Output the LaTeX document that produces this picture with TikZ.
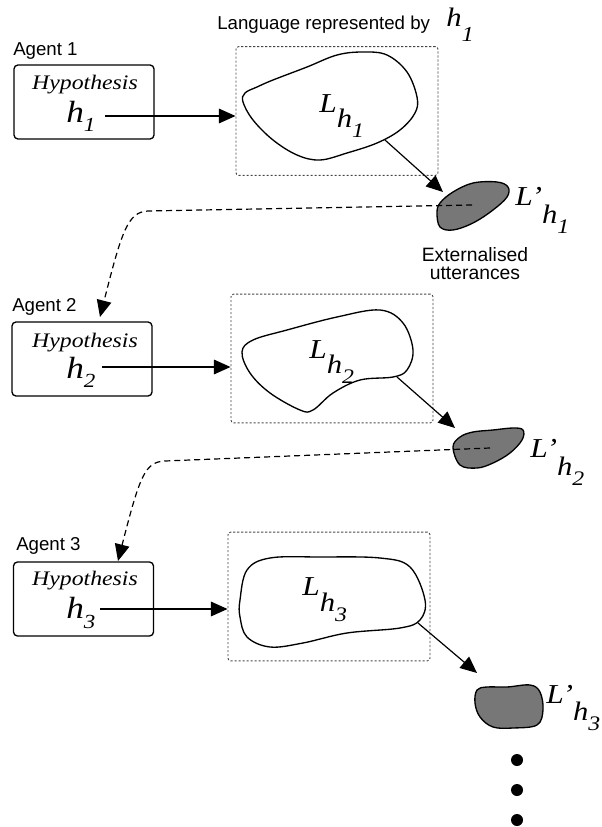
\documentclass[tikz,border=0pt]{standalone}
\usepackage{fontspec}
\setmainfont{Liberation Serif}[FakeStretch=1.15]
\setsansfont{Liberation Sans}
\usetikzlibrary{arrows.meta}

\definecolor{utter}{RGB}{119,119,119}
\definecolor{frame}{RGB}{70,70,70}

\newcommand{\fs}[1]{\fontsize{#1}{#1}\selectfont}
% italic h with a lowered index: size of h, size of index, drop, index
\newcommand{\hidx}[4]{{\fs{#1}\itshape h}\raisebox{-#3}{\fs{#2}\itshape #4}}
% language symbol L (or L') with index h_i, lowered by #3
\newcommand{\Lang}[3]{{\fs{20.5pt}\itshape L#1}\raisebox{-#3}{\hidx{20pt}{15.5pt}{7.5pt}{#2}}}

\begin{document}
\begin{tikzpicture}[x=0.75pt,y=-0.75pt,
  agent/.style={draw, line width=1pt, rounded corners=3pt,
    minimum width=105pt, minimum height=55.5pt, inner sep=0},
  langbox/.style={draw=frame, line width=0.7pt, dash pattern=on 1.6pt off 1.4pt,
    rounded corners=2pt, minimum width=151.5pt, minimum height=96.5pt, inner sep=0},
  blob/.style={draw, line width=1pt, fill=white},
  utt/.style={draw, line width=1pt, fill=utter},
  flow/.style={-{Triangle[length=12.5pt,width=11pt]}, line width=0.9pt},
  pass/.style={flow, dash pattern=on 4.5pt off 3pt},
  tag/.style={font=\sffamily\fs{14pt}, inner sep=0, anchor=base west},
  txt/.style={inner sep=0, anchor=base west},
  hyp/.style={inner sep=0, anchor=base, font=\fs{15.5pt}\itshape}]

\useasboundingbox (0,0) rectangle (601,827);

% ---- agents ----
\node[tag] (ag1) at (13,56) {Agent 1};
\node[tag] (ag2) at (12,311) {Agent 2};
\node[tag] (ag3) at (16,550) {Agent 3};

\node[agent] (box1) at (84,102) {};
\node[agent] (box2) at (82,359) {};
\node[agent] (box3) at (83.5,599) {};

\node[hyp] (hy1) at (85,90) {Hypothesis};
\node[hyp] (hy2) at (85,347) {Hypothesis};
\node[hyp] (hy3) at (85,585) {Hypothesis};

\node[txt] (h1) at (66,123) {\hidx{23pt}{15pt}{6.75pt}{1}};
\node[txt] (h2) at (66,378) {\hidx{23pt}{15pt}{6.75pt}{2}};
\node[txt] (h3) at (66,618) {\hidx{23pt}{15pt}{8pt}{3}};

% ---- language frames ----
\node[tag] (title) at (217,30) {Language represented by};
\node[txt] (th) at (446,27) {\hidx{20pt}{16pt}{11.25pt}{1}};

\node[langbox] (lang1) at (337,111) {};
\node[langbox] (lang2) at (332,358.5) {};
\node[langbox] (lang3) at (329,596.5) {};

% ---- languages ----
\draw[blob] plot[smooth cycle, tension=0.6] coordinates {
  (245,93) (257,87) (273,80) (307,67) (337,55) (363,52) (387,55) (407,72)
  (417,97) (415,113) (400,130) (377,143) (347,153) (320,160) (297,155)
  (273,140) (253,120) (243,102)};
\draw[blob] plot[smooth cycle, tension=0.6] coordinates {
  (242,352) (253,340) (287,330) (337,317) (380,310) (403,323) (413,350)
  (407,370) (393,377) (360,380) (333,393) (313,410) (300,410) (270,393)
  (250,373)};
\draw[blob] plot[smooth cycle, tension=0.6] coordinates {
  (240,600) (247,570) (270,558) (320,557) (380,558) (410,567) (425,600)
  (420,620) (400,628) (347,633) (303,643) (270,647) (247,637) (240,617)};

\node[txt] (L1) at (319,113) {\Lang{}{1}{11.25pt}};
\node[txt] (L2) at (309,358) {\Lang{}{2}{11.25pt}};
\node[txt] (L3) at (302,595) {\Lang{}{3}{12.5pt}};

% ---- externalised utterances ----
\draw[utt] plot[smooth cycle, tension=0.6] coordinates {
  (437,213) (440,203) (453,192) (473,183) (497,182) (508,187) (507,197)
  (493,210) (473,223) (453,230) (440,227)};
\draw[utt] plot[smooth cycle, tension=0.6] coordinates {
  (453,447) (460,437) (473,432) (493,430) (513,428) (523,430) (522,440)
  (510,453) (493,463) (477,468) (460,465)};
\draw[utt] plot[smooth cycle, tension=0.6] coordinates {
  (477,690) (487,687) (507,687) (530,685) (540,692) (543,710) (537,725)
  (513,728) (493,727) (480,717) (475,703)};

\node[txt] (Lp1) at (515,205) {\Lang{’}{1}{13.5pt}};
\node[txt] (Lp2) at (530,457) {\Lang{’}{2}{13.5pt}};
\node[txt] (Lp3) at (546,703) {\Lang{’}{3}{13pt}};

\node[font=\sffamily\fontsize{14.5pt}{13.5pt}\selectfont, align=center, inner sep=0]
  (ext) at (475,264) {Externalised\\utterances};

% ---- hypothesis -> language ----
\coordinate (s1) at (105,116);
\coordinate (s2) at (102,367);
\coordinate (s3) at (100,609);
\draw[flow] (s1) -- (s1 -| lang1.west);
\draw[flow] (s2) -- (s2 -| lang2.west);
\draw[flow] (s3) -- (s3 -| lang3.west);

% ---- language -> utterances ----
\coordinate (b1) at (385,140); \coordinate (t1) at (443,192);
\coordinate (b2) at (397,377); \coordinate (t2) at (455,428);
\coordinate (b3) at (418,623); \coordinate (t3) at (477,673);
\draw[flow] (b1) -- (t1);
\draw[flow] (b2) -- (t2);
\draw[flow] (b3) -- (t3);

% ---- utterances -> next agent ----
\coordinate (u1) at (472,205); \coordinate (k1) at (148,211); \coordinate (e1) at (100,317);
\coordinate (u2) at (490,448); \coordinate (k2) at (165,461); \coordinate (e2) at (118,561);
\draw[pass] (u1) -- (k1) .. controls (128,212) and (122,230) .. (e1);
\draw[pass] (u2) -- (k2) .. controls (145,462) and (140,475) .. (e2);

% ---- continuation ----
\fill (517,760) circle[radius=4.5pt];
\fill (517,790) circle[radius=4.5pt];
\fill (517,820) circle[radius=4.5pt];
\end{tikzpicture}
\end{document}
